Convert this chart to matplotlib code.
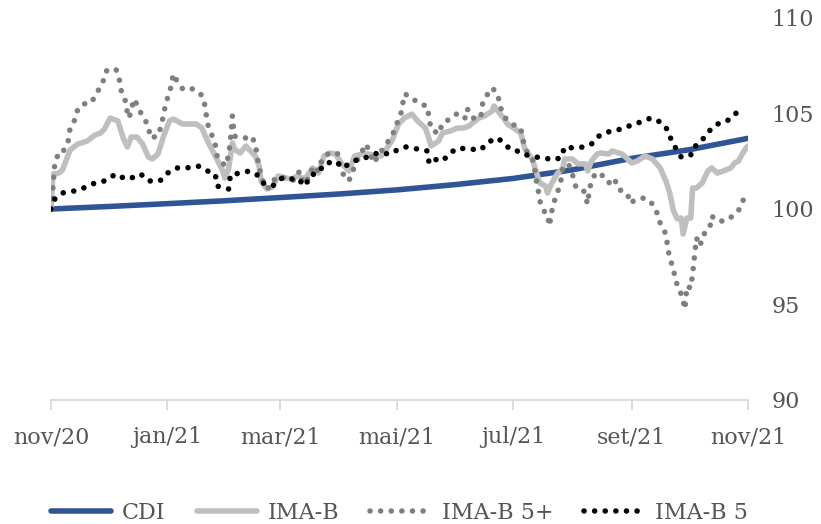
import datetime as dt
import matplotlib
matplotlib.use("Agg")
import matplotlib.pyplot as plt

plt.rcParams['font.family'] = ['DejaVu Serif']

start = dt.date(2020, 11, 1)

# CDI (days since 1 nov 2020, index)
cdi_days = [0, 30, 61, 89, 120, 150, 181, 211, 242, 273, 304, 334, 365]
cdi = [100.0, 100.13, 100.28, 100.42, 100.6, 100.78, 101.0, 101.27, 101.6,
       102.05, 102.65, 103.1, 103.7]

# IMA-B
imab_days = [0, 1, 4, 6, 10, 14, 19, 23, 26, 28, 31, 35, 38, 40, 42, 45, 48, 51, 53, 56,
             59, 62, 64, 69, 73, 76, 79, 82, 86, 90, 91, 93, 95, 96, 99, 102, 105, 107,
             109, 110, 113, 116, 119, 123, 126, 129, 133, 137, 140, 143, 146, 149, 152,
             156, 159, 163, 166, 170, 173, 176, 179, 182, 185, 189, 192, 196, 198, 199,
             203, 205, 209, 213, 216, 219, 220, 224, 227, 231, 232, 234, 237, 239, 243,
             246, 248, 250, 252, 254, 256, 259, 260, 262, 265, 268, 269, 273, 276, 280,
             281, 283, 286, 288, 292, 294, 299, 302, 304, 307, 311, 315, 319, 322, 324,
             326, 328, 330, 331, 333, 335, 336, 338, 341, 344, 346, 349, 352, 356, 358,
             360, 362, 364, 365]
imab = [100.0, 101.83, 101.88, 102.04, 103.09, 103.40, 103.56, 103.87, 103.98, 104.19,
        104.76, 104.61, 103.67, 103.25, 103.77, 103.77, 103.40, 102.72, 102.62, 102.88,
        103.82, 104.61, 104.71, 104.45, 104.45, 104.45, 104.24, 103.56, 102.78, 101.99,
        101.62, 102.09, 103.46, 103.14, 102.93, 103.30, 102.98, 102.78, 102.25, 101.47,
        101.05, 101.15, 101.73, 101.62, 101.57, 101.73, 101.57, 102.15, 101.88, 102.78,
        102.93, 102.88, 102.41, 101.99, 102.78, 102.88, 102.88, 102.78, 102.78, 103.19,
        103.67, 104.45, 104.76, 104.97, 104.61, 104.24, 103.67, 103.30, 103.56, 103.98,
        104.08, 104.24, 104.24, 104.35, 104.45, 104.76, 104.87, 105.13, 105.39, 105.13,
        104.76, 104.45, 104.19, 103.98, 103.19, 102.88, 102.62, 101.99, 101.36, 101.20,
        100.84, 101.31, 101.83, 102.15, 102.62, 102.62, 102.36, 102.36, 101.99, 102.51,
        102.88, 102.93, 102.88, 103.04, 102.88, 102.62, 102.41, 102.51, 102.78, 102.62,
        102.15, 101.47, 100.84, 99.90, 99.48, 99.53, 98.69, 99.53, 99.53, 101.10, 101.10,
        101.36, 101.99, 102.15, 101.88, 101.99, 102.15, 102.41, 102.51, 102.88, 103.19,
        103.3]

# IMA-B 5+
imab5p_days = [0, 1, 2, 4, 6, 9, 10, 13, 14, 17, 21, 24, 27, 29, 34, 36, 37, 39, 40, 41,
               42, 44, 45, 48, 51, 52, 56, 58, 59, 61, 63, 64, 66, 69, 73, 78, 80, 81, 82,
               84, 86, 87, 90, 91, 93, 94, 95, 96, 99, 102, 105, 107, 108, 109, 111, 113,
               115, 116, 120, 123, 126, 129, 130, 132, 136, 137, 140, 142, 145, 150, 151,
               153, 156, 158, 161, 165, 167, 169, 172, 176, 179, 181, 183, 184, 185, 188,
               191, 193, 197, 198, 199, 203, 205, 207, 210, 213, 217, 218, 221, 225, 226,
               228, 231, 234, 235, 238, 240, 243, 246, 247, 249, 252, 253, 254, 255, 256,
               258, 260, 261, 262, 263, 265, 267, 268, 271, 273, 275, 279, 281, 282, 285,
               288, 292, 295, 297, 302, 303, 307, 311, 315, 317, 319, 322, 323, 324, 326,
               327, 329, 331, 332, 333, 335, 336, 337, 338, 340, 341, 345, 346, 349, 353,
               357, 360, 362, 364]
imab5p = [100.0, 101.10, 102.41, 102.93, 102.93, 103.56, 104.24, 104.76, 105.24, 105.50,
          105.55, 106.07, 106.60, 107.23, 107.33, 106.70, 106.07, 105.65, 105.03, 104.76,
          105.29, 105.76, 105.39, 104.87, 104.35, 103.72, 103.82, 104.45, 105.03, 105.81,
          106.44, 107.07, 106.70, 106.28, 106.34, 106.07, 105.76, 105.13, 104.45, 103.93,
          103.40, 102.78, 102.41, 102.25, 102.78, 103.67, 104.87, 103.82, 103.72, 103.72,
          103.82, 103.40, 102.78, 102.15, 101.47, 101.05, 101.20, 101.47, 101.73, 101.57,
          101.47, 101.62, 101.99, 101.31, 101.73, 102.25, 101.99, 102.62, 102.88, 102.93,
          102.36, 101.83, 101.47, 101.99, 102.67, 103.40, 102.93, 102.41, 102.88, 103.46,
          103.93, 104.45, 104.87, 105.39, 106.02, 105.92, 105.65, 105.50, 105.39, 104.76,
          104.19, 103.93, 104.50, 104.61, 104.76, 105.03, 104.76, 105.24, 104.76, 104.76,
          105.50, 105.92, 106.34, 106.02, 105.39, 104.76, 104.61, 104.35, 104.24, 103.67,
          103.04, 102.67, 102.25, 101.57, 101.05, 100.42, 99.90, 99.74, 99.11, 99.74,
          100.26, 100.79, 101.47, 102.15, 102.36, 101.83, 101.10, 100.94, 100.26, 101.10,
          101.88, 101.83, 101.36, 101.62, 101.05, 100.79, 100.31, 100.52, 100.58, 100.26,
          99.90, 99.27, 98.69, 97.96, 97.43, 96.86, 96.23, 95.86, 95.18, 94.76, 95.97,
          95.86, 96.60, 97.54, 98.48, 98.06, 98.59, 99.01, 99.63, 99.37, 99.37, 99.63,
          99.90, 100.42, 100.58]

# IMA-B 5
imab5_days = [0, 2, 6, 12, 17, 23, 28, 34, 39, 42, 47, 51, 57, 61, 66, 71, 77, 82, 86, 87,
              93, 94, 99, 104, 108, 111, 116, 121, 127, 129, 133, 136, 140, 143, 149, 153,
              158, 163, 167, 171, 178, 182, 186, 192, 197, 198, 200, 205, 209, 213, 219,
              225, 229, 234, 238, 241, 247, 249, 254, 259, 262, 267, 269, 274, 279, 283,
              287, 293, 299, 304, 309, 314, 319, 323, 325, 328, 330, 332, 336, 338, 342,
              346, 350, 354, 358, 362]
imab5 = [100.0, 100.52, 100.84, 100.94, 101.10, 101.36, 101.47, 101.83, 101.57, 101.62,
         101.83, 101.47, 101.47, 101.88, 102.15, 102.15, 102.25, 101.99, 101.83, 101.20,
         101.05, 101.8, 101.88, 101.99, 101.78, 101.36, 101.20, 101.62, 101.57, 101.62,
         101.20, 101.78, 101.88, 102.36, 102.51, 102.15, 102.51, 102.62, 102.78, 102.93,
         102.88, 103.14, 103.25, 103.14, 103.04, 102.41, 102.62, 102.51, 102.93, 103.19,
         103.14, 103.09, 103.51, 103.72, 103.35, 103.09, 102.98, 102.83, 102.72, 102.67,
         102.57, 102.67, 103.25, 103.19, 103.25, 103.40, 103.82, 104.08, 104.19, 104.40,
         104.56, 104.76, 104.56, 104.14, 103.56, 103.04, 102.72, 102.72, 102.88, 103.40,
         103.72, 104.24, 104.50, 104.61, 104.92, 105.45]

tick_labels = ['nov/20', 'jan/21', 'mar/21', 'mai/21', 'jul/21', 'set/21', 'nov/21']
tick_dates = [dt.date(2020, 11, 1), dt.date(2021, 1, 1), dt.date(2021, 3, 1),
              dt.date(2021, 5, 1), dt.date(2021, 7, 1), dt.date(2021, 9, 1),
              dt.date(2021, 11, 1)]


def to_dates(days):
    return [start + dt.timedelta(days=d) for d in days]


txt = '#555555'
fig = plt.figure(figsize=(8.21, 5.24), dpi=100)
ax = fig.add_axes([51 / 821, 1 - 400 / 524, 697 / 821, 382 / 524])

ax.plot(to_dates(cdi_days), cdi, color='#2F5597', lw=4, label='CDI',
        solid_capstyle='round', zorder=2)
ax.plot(to_dates(imab_days), imab, color='#BFBFBF', lw=4, label='IMA-B',
        solid_capstyle='round', solid_joinstyle='round', zorder=3)
ax.plot(to_dates(imab5p_days), imab5p, color='#7F7F7F', lw=4, label='IMA-B 5+',
        linestyle=(0, (0.01, 1.9)), dash_capstyle='round', zorder=4)
ax.plot(to_dates(imab5_days), imab5, color='#000000', lw=4, label='IMA-B 5',
        linestyle=(0, (0.01, 1.9)), dash_capstyle='round', zorder=5)

ax.set_xlim(dt.date(2020, 11, 1), dt.date(2021, 11, 1))
ax.set_ylim(90, 110)
ax.set_xticks(tick_dates)
ax.set_xticklabels(tick_labels)
ax.set_yticks([90, 95, 100, 105, 110])

for s in ['top', 'left', 'right']:
    ax.spines[s].set_visible(False)
ax.spines['bottom'].set_color('#D9D9D9')
ax.spines['bottom'].set_linewidth(1.3)

ax.yaxis.tick_right()
ax.tick_params(axis='y', length=0, pad=17, labelsize=16, labelcolor=txt)
ax.tick_params(axis='x', length=7, width=1.3, color='#D9D9D9', pad=12,
               labelsize=16, labelcolor=txt)

leg = ax.legend(loc='upper center', bbox_to_anchor=(0.5, -0.215), ncol=4,
                frameon=False, fontsize=16, handlelength=2.7, handletextpad=0.5,
                columnspacing=1.4, labelcolor=txt)

fig.savefig('out.png', dpi=100)
